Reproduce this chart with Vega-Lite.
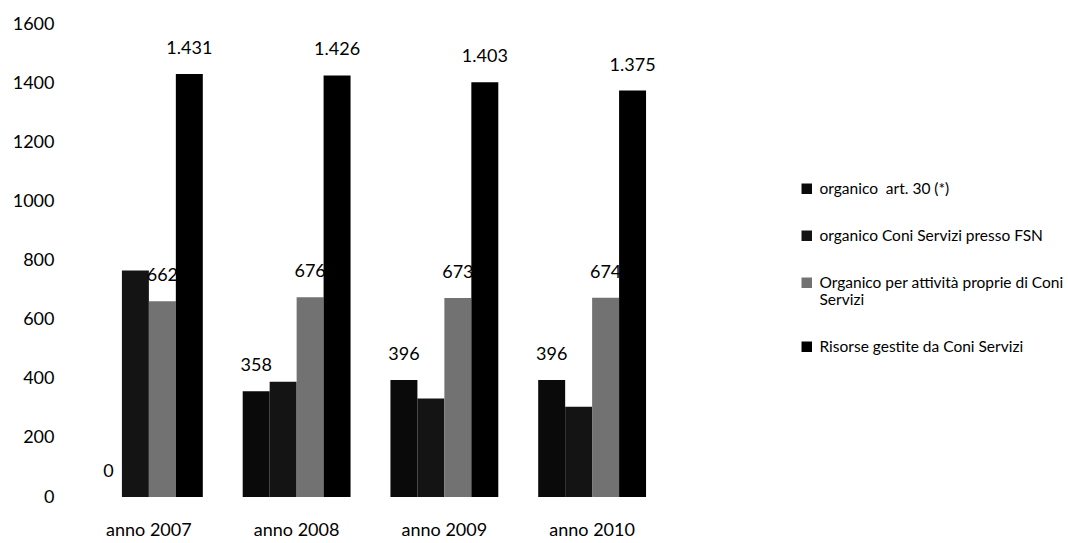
{
  "$schema": "https://vega.github.io/schema/vega-lite/v6.json",
  "autosize": "none",
  "width": 591,
  "height": 473,
  "padding": {"left": 75, "top": 24, "right": 402, "bottom": 46},
  "background": "white",
  "config": {
    "font": "Lato",
    "view": {"stroke": null},
    "locale": {"number": {"decimal": ",", "thousands": ".", "grouping": [3], "currency": ["€", ""]}}
  },
  "data": {"values": [
    {"anno": "anno 2007", "serie": "organico\u00a0 art. 30 (*)", "valore": 0},
    {"anno": "anno 2007", "serie": "organico Coni Servizi presso FSN", "valore": 766},
    {"anno": "anno 2007", "serie": "Organico per attività proprie di Coni Servizi", "valore": 662},
    {"anno": "anno 2007", "serie": "Risorse gestite da Coni Servizi", "valore": 1431},
    {"anno": "anno 2008", "serie": "organico\u00a0 art. 30 (*)", "valore": 358},
    {"anno": "anno 2008", "serie": "organico Coni Servizi presso FSN", "valore": 390},
    {"anno": "anno 2008", "serie": "Organico per attività proprie di Coni Servizi", "valore": 676},
    {"anno": "anno 2008", "serie": "Risorse gestite da Coni Servizi", "valore": 1426},
    {"anno": "anno 2009", "serie": "organico\u00a0 art. 30 (*)", "valore": 396},
    {"anno": "anno 2009", "serie": "organico Coni Servizi presso FSN", "valore": 333},
    {"anno": "anno 2009", "serie": "Organico per attività proprie di Coni Servizi", "valore": 673},
    {"anno": "anno 2009", "serie": "Risorse gestite da Coni Servizi", "valore": 1403},
    {"anno": "anno 2010", "serie": "organico\u00a0 art. 30 (*)", "valore": 396},
    {"anno": "anno 2010", "serie": "organico Coni Servizi presso FSN", "valore": 305},
    {"anno": "anno 2010", "serie": "Organico per attività proprie di Coni Servizi", "valore": 674},
    {"anno": "anno 2010", "serie": "Risorse gestite da Coni Servizi", "valore": 1375}
  ]},
  "encoding": {
    "x": {
      "field": "anno", "type": "nominal",
      "scale": {"paddingInner": 0.27, "paddingOuter": 0.135},
      "axis": {"title": null, "labelAngle": 0, "domain": false, "ticks": false, "labelPadding": 24, "labelFontSize": 18, "labelColor": "#000"}
    },
    "xOffset": {
      "field": "serie", "type": "nominal",
      "sort": ["organico\u00a0 art. 30 (*)", "organico Coni Servizi presso FSN", "Organico per attività proprie di Coni Servizi", "Risorse gestite da Coni Servizi"]
    },
    "y": {
      "field": "valore", "type": "quantitative",
      "scale": {"domain": [0, 1600]},
      "axis": {"title": null, "values": [0, 200, 400, 600, 800, 1000, 1200, 1400, 1600], "format": "d", "grid": false, "domain": false, "ticks": false, "labelPadding": 21, "labelFontSize": 18, "labelColor": "#000"}
    }
  },
  "layer": [
    {
      "mark": {"type": "bar"},
      "encoding": {
        "color": {
          "field": "serie", "type": "nominal",
          "scale": {
            "domain": ["organico\u00a0 art. 30 (*)", "organico Coni Servizi presso FSN", "Organico per attività proprie di Coni Servizi", "Risorse gestite da Coni Servizi"],
            "range": ["#0a0a0a", "#141414", "#727272", "#000000"]
          },
          "legend": {
            "title": null,
            "orient": "none",
            "legendX": 724,
            "legendY": 157,
            "symbolType": "square",
            "symbolSize": 110,
            "symbolStrokeWidth": 0,
            "labelFontSize": 15.5,
            "labelColor": "#000",
            "labelLimit": 340,
            "rowPadding": 30,
            "labelOffset": 5,
            "labelExpr": "datum.label == 'Organico per attività proprie di Coni Servizi' ? ['Organico per attività proprie di Coni', 'Servizi'] : datum.label"
          }
        }
      }
    },
    {
      "transform": [{"filter": "datum.serie != 'organico Coni Servizi presso FSN'"}],
      "mark": {"type": "text", "baseline": "alphabetic", "dy": -20, "fontSize": 18, "color": "#000"},
      "encoding": {
        "text": {"field": "valore", "type": "quantitative", "format": ",d"}
      }
    }
  ]
}
